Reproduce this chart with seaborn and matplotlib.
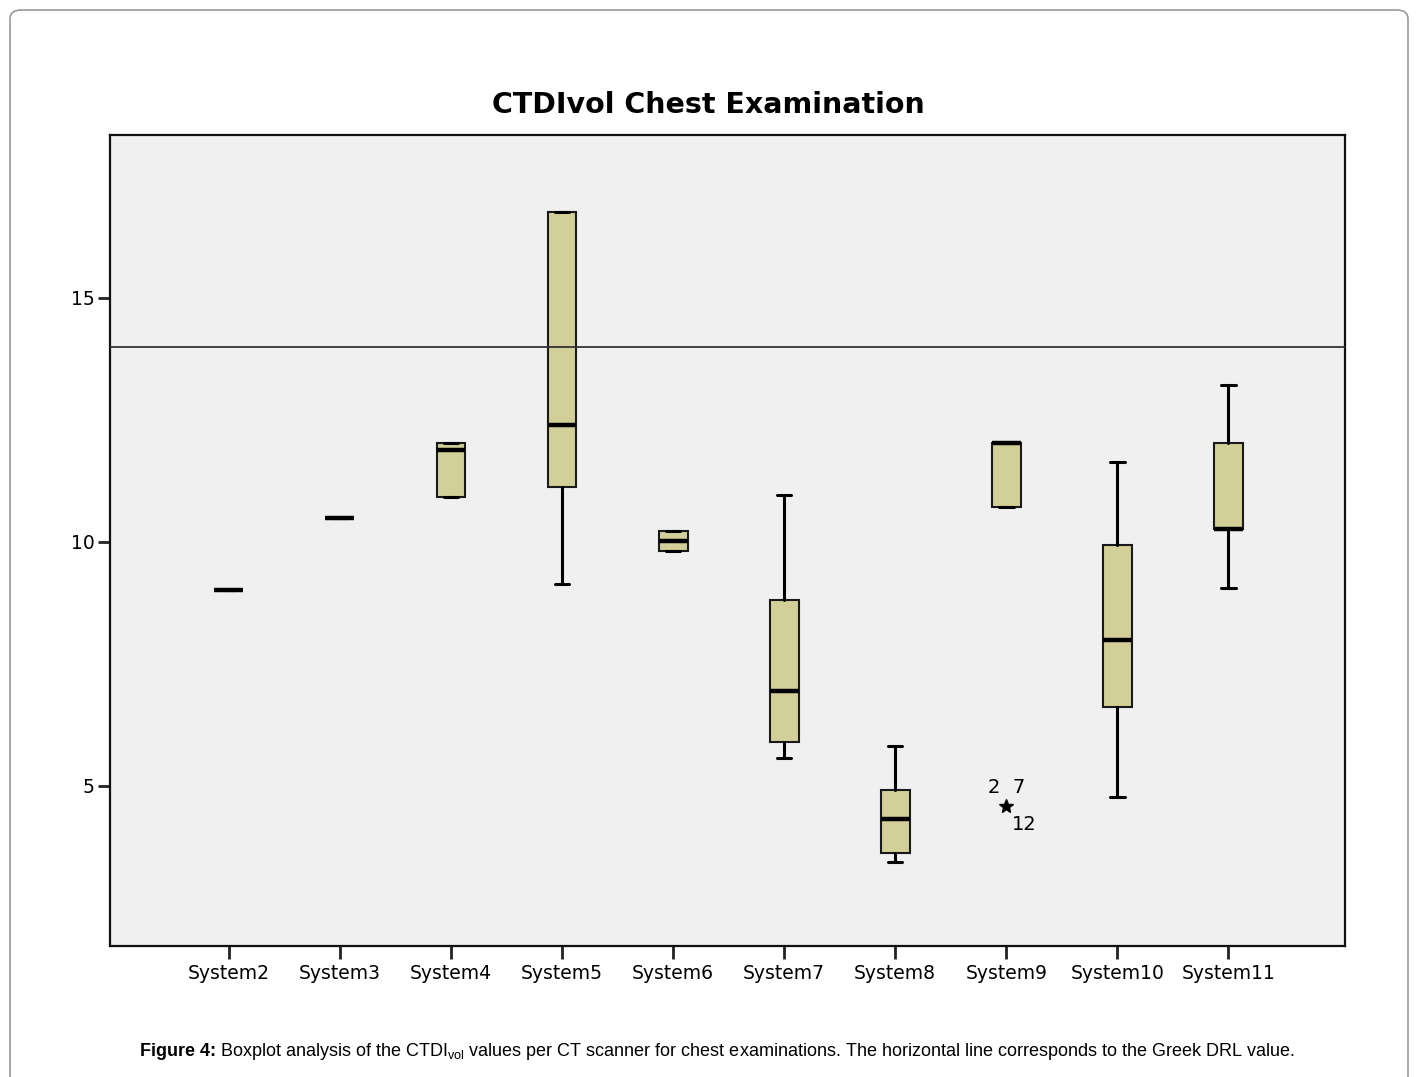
import matplotlib
matplotlib.use("Agg")
import matplotlib.pyplot as plt
import seaborn as sns
from matplotlib.patches import FancyBboxPatch

# Data (CTDIvol, mGy)
systems = ['System2', 'System3', 'System4', 'System5', 'System6',
           'System7', 'System8', 'System9', 'System10', 'System11']
whisker_low = [9.02, 10.49, 10.92, 9.14, 9.82, 5.57, 3.44, 10.72, 4.77, 9.06]
q1 = [9.02, 10.49, 10.92, 11.13, 9.82, 5.90, 3.63, 10.72, 6.62, 10.27]
median = [9.02, 10.49, 11.89, 12.40, 10.02, 6.95, 4.32, 12.03, 7.99, 10.27]
q3 = [9.02, 10.49, 12.03, 16.76, 10.23, 8.81, 4.92, 12.03, 9.94, 12.03]
whisker_high = [9.02, 10.49, 12.03, 16.76, 10.23, 10.96, 5.82, 12.03, 11.64, 13.22]
outliers = [[], [], [], [], [], [], [], [4.59], [], []]
outlier_ids = ['2  7', '12']
drl_value = 14.0

sns.set_style('white', {'axes.facecolor': '#f0f0f0', 'axes.edgecolor': 'black',
                        'text.color': 'black', 'xtick.color': 'black', 'ytick.color': 'black'})
plt.rcParams['font.family'] = ['DejaVu Sans']
plt.rcParams['mathtext.fontset'] = 'custom'
plt.rcParams['mathtext.rm'] = 'Liberation Sans'
plt.rcParams['mathtext.it'] = 'Liberation Sans:italic'

fig = plt.figure(figsize=(14.16, 10.77), dpi=100)
ax = fig.add_axes([0.0777, 0.1216, 0.8722, 0.7531])

stats = []
for i, name in enumerate(systems):
    stats.append(dict(label=name, whislo=whisker_low[i], q1=q1[i], med=median[i],
                      q3=q3[i], whishi=whisker_high[i], fliers=outliers[i]))

ax.bxp(stats, positions=range(len(systems)), widths=0.26, patch_artist=True,
       boxprops=dict(facecolor='#d3cf98', edgecolor='#1a1a1a', linewidth=1.5),
       medianprops=dict(color='black', linewidth=3.2),
       whiskerprops=dict(color='black', linewidth=2.2),
       capprops=dict(color='black', linewidth=2.2),
       capwidths=0.13,
       flierprops=dict(marker='*', markersize=10, markerfacecolor='black',
                       markeredgecolor='black'))

# outlier case labels for System9
ax.annotate(outlier_ids[0], (7, outliers[7][0]), xytext=(0, 13), textcoords='offset points',
            ha='center', va='center', fontsize=14)
ax.annotate(outlier_ids[1], (7, outliers[7][0]), xytext=(13, -13), textcoords='offset points',
            ha='center', va='center', fontsize=14)

ax.axhline(drl_value, color='#333333', linewidth=1.3, zorder=5)

ax.set_xlim(-1.07, 10.05)
ax.set_ylim(1.72, 18.34)
ax.set_yticks([5, 10, 15])
ax.set_yticklabels(['5', '10', '15'])
ax.set_xticks(range(len(systems)))
ax.set_xticklabels(systems)
ax.tick_params(axis='both', labelsize=13.5, length=9, width=2, direction='out',
               color='#222222', pad=4)
ax.tick_params(axis='y', pad=2)
ax.tick_params(left=True, bottom=True)
for s in ax.spines.values():
    s.set_linewidth(1.6)
    s.set_color('#111111')

fig.text(0.5, 1 - 105 / 1077, 'CTDIvol Chest Examination', ha='center', va='center',
         fontsize=20.5, fontweight='bold')

# caption: bold label followed by the rest on the same baseline
cap_y = 1 - 1056 / 1077
t1 = fig.text(140 / 1416, cap_y, 'Figure 4:', ha='left', va='baseline',
              fontsize=13, fontweight='bold', family='Liberation Sans')
fig.canvas.draw()
bb = t1.get_window_extent(renderer=fig.canvas.get_renderer())
fig.text((bb.x1 + 4) / (fig.dpi * fig.get_figwidth()), cap_y,
         r'Boxplot analysis of the CTDI$_{\mathrm{vol}}$ values per CT scanner '
         r'for chest examinations. The horizontal line corresponds to the Greek DRL value.',
         ha='left', va='baseline', fontsize=13, family='Liberation Sans')

frame = FancyBboxPatch((10 / 1416, -0.02), 1398 / 1416, (1077 - 10) / 1077 + 0.02,
                       boxstyle='round,pad=0,rounding_size=0.008',
                       transform=fig.transFigure, facecolor='none',
                       edgecolor='#999999', linewidth=1.2, clip_on=False)
fig.patches.append(frame)

fig.savefig('out.png', dpi=100, facecolor='white')
